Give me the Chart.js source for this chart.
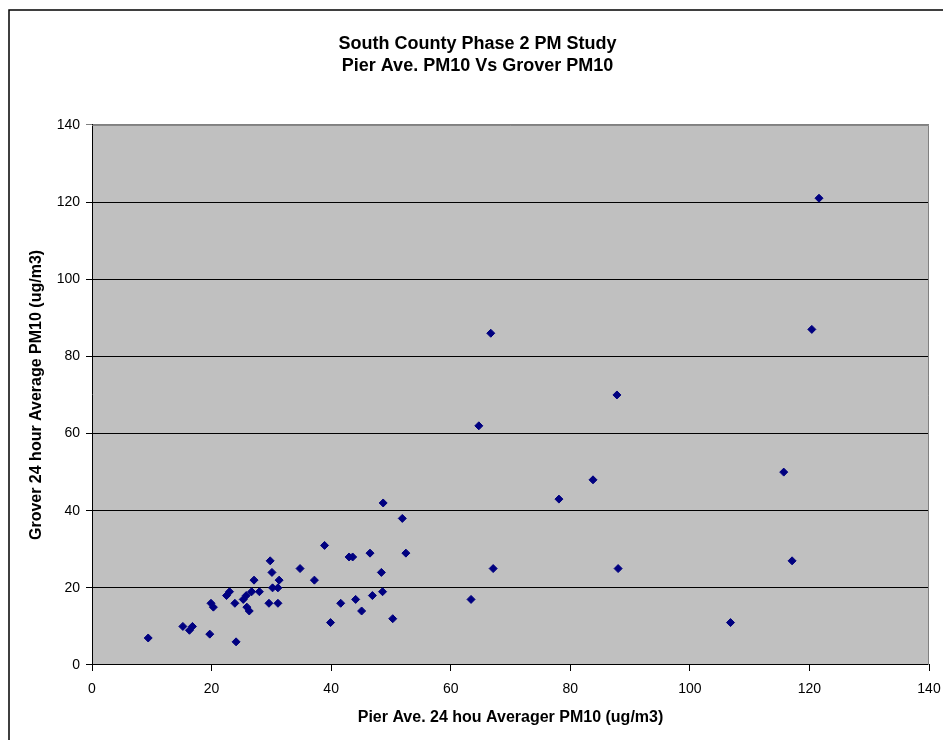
<!DOCTYPE html>
<html lang="en">
<head>
    <meta charset="UTF-8">
    <title>Pier Ave. PM10 Vs Grover PM10</title>
    <script src="https://cdn.jsdelivr.net/npm/chart.js"></script>
    <style>
        html, body { margin: 0; padding: 0; background: white; }
        #chartContainer { position: relative; width: 943px; height: 740px; }
    </style>
</head>
<body>
    <div id="chartContainer">
        <canvas id="pmChart"></canvas>
    </div>

    <script>
        // Pier Ave. 24 hour average PM10 (x) and Grover 24 hour average PM10 (y), ug/m3
        const pierValues = [
            9.4, 15.2, 16.3, 16.8, 19.7, 24.1, 19.9, 20.3, 22.5, 23.0,
            23.9, 25.3, 25.8, 25.9, 26.3, 26.7, 27.1, 28.0, 29.8, 30.1,
            31.3, 30.2, 31.1, 29.6, 31.1, 34.8, 37.2, 38.9, 39.9, 48.7,
            51.9, 43.0, 43.6, 46.5, 52.5, 48.4, 67.1, 41.6, 44.1, 45.1,
            46.9, 48.6, 50.3, 63.4, 66.7, 87.8, 64.7, 83.8, 78.1, 88.0,
            121.6, 120.4, 115.7, 117.1, 106.8
        ];
        const groverValues = [
            7, 10, 9, 10, 8, 6, 16, 15, 18, 19,
            16, 17, 18, 15, 14, 19, 22, 19, 27, 24,
            22, 20, 20, 16, 16, 25, 22, 31, 11, 42,
            38, 28, 28, 29, 29, 24, 25, 16, 17, 14,
            18, 19, 12, 17, 86, 70, 62, 48, 43, 25,
            121, 87, 50, 27, 11
        ];
        const xTicks = [0, 20, 40, 60, 80, 100, 120, 140];
        const yTicks = [0, 20, 40, 60, 80, 100, 120, 140];

        const titleLines = ['South County Phase 2 PM Study', 'Pier Ave. PM10 Vs Grover PM10'];
        const xTitle = 'Pier Ave. 24 hou Averager PM10 (ug/m3)';
        const yTitle = 'Grover 24 hour Average PM10 (ug/m3)';

        const points = pierValues.map((x, i) => ({ x: x, y: groverValues[i] }));

        const fontFamily = '"Liberation Sans", Arial, sans-serif';

        // white page, outer frame and grey plot area
        const framePlugin = {
            id: 'frame',
            beforeDraw(chart) {
                const ctx = chart.ctx;
                const a = chart.chartArea;
                ctx.save();
                ctx.fillStyle = '#ffffff';
                ctx.fillRect(0, 0, chart.width, chart.height);
                ctx.strokeStyle = '#000000';
                ctx.lineWidth = 1.5;
                ctx.strokeRect(9, 10, chart.width + 20, chart.height + 20);
                ctx.fillStyle = '#c0c0c0';
                ctx.fillRect(a.left, a.top, a.right - a.left, a.bottom - a.top);
                ctx.restore();
            },
            beforeDatasetsDraw(chart) {
                const ctx = chart.ctx;
                const a = chart.chartArea;
                ctx.save();
                ctx.strokeStyle = '#808080';
                ctx.lineWidth = 1;
                ctx.beginPath();
                ctx.moveTo(a.left, a.top + 0.5);
                ctx.lineTo(a.right - 0.5, a.top + 0.5);
                ctx.lineTo(a.right - 0.5, a.bottom);
                ctx.stroke();
                ctx.restore();
            }
        };

        new Chart(document.getElementById('pmChart').getContext('2d'), {
            type: 'scatter',
            data: {
                datasets: [{
                    label: 'Grover PM10',
                    data: points,
                    pointStyle: 'rectRot',
                    pointRadius: 4,
                    pointHoverRadius: 4,
                    backgroundColor: '#000080',
                    borderColor: '#000080',
                    borderWidth: 1
                }]
            },
            options: {
                responsive: true,
                maintainAspectRatio: false,
                animation: false,
                layout: { padding: { left: 26, right: 14, top: 0, bottom: 0 } },
                plugins: {
                    legend: { display: false },
                    tooltip: { enabled: false },
                    title: {
                        display: true,
                        text: titleLines,
                        color: '#000',
                        font: { family: fontFamily, size: 18, weight: 'bold', lineHeight: 1.22 },
                        padding: { top: 33, bottom: 48 }
                    }
                },
                scales: {
                    x: {
                        type: 'linear',
                        min: xTicks[0],
                        max: xTicks[xTicks.length - 1],
                        afterBuildTicks(scale) { scale.ticks = xTicks.map(v => ({ value: v })); },
                        afterFit(scale) {
                            scale.height = 75;
                            // the page padding already leaves room for the end labels
                            scale.paddingLeft = 0;
                            scale.paddingRight = 0;
                        },
                        ticks: { color: '#000', padding: 10, maxRotation: 0, font: { family: fontFamily, size: 14 } },
                        grid: { drawOnChartArea: false, drawTicks: true, tickLength: 6, color: '#000' },
                        border: { color: '#000', width: 1 },
                        title: {
                            display: true,
                            text: xTitle,
                            color: '#000',
                            font: { family: fontFamily, size: 16, weight: 'bold' },
                            padding: { top: 0, bottom: 13 }
                        }
                    },
                    y: {
                        type: 'linear',
                        min: yTicks[0],
                        max: yTicks[yTicks.length - 1],
                        afterBuildTicks(scale) { scale.ticks = yTicks.map(v => ({ value: v })); },
                        afterFit(scale) { scale.width = 66; },
                        ticks: { color: '#000', padding: 6, font: { family: fontFamily, size: 14 } },
                        grid: {
                            drawTicks: true,
                            tickLength: 6,
                            color: ctx => (ctx.tick && ctx.tick.value === 140 ? '#808080' : '#000')
                        },
                        border: { color: '#000', width: 1 },
                        title: {
                            display: true,
                            text: yTitle,
                            color: '#000',
                            font: { family: fontFamily, size: 16, weight: 'bold' },
                            padding: { top: 1, bottom: 0 }
                        }
                    }
                }
            },
            plugins: [framePlugin]
        });
    </script>
</body>
</html>
